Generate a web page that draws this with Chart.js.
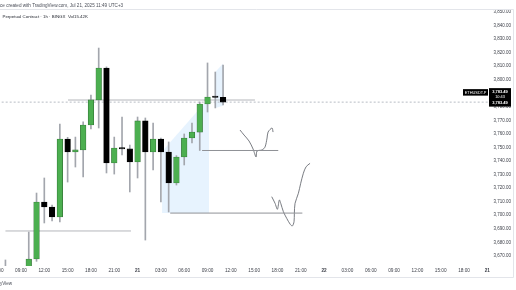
<!DOCTYPE html>
<html><head><meta charset="utf-8">
<script src="https://cdn.jsdelivr.net/npm/chart.js@4.4.1/dist/chart.umd.min.js"></script>
<style>html,body{margin:0;padding:0;background:#fff;overflow:hidden}canvas{display:block}</style>
</head><body>
<canvas id="c" width="516" height="290"></canvas>
<script>
// hour index: 0 = 06:00 on Jul 20
const hourIndex = [1,4,5,6,7,8,9,10,11,12,13,14,15,16,17,18,19,20,21,22,23,24,25,26,27,28,29];
const opens  = [3660,3655,3667.7,3709.8,3706.1,3698.7,3756.3,3746.7,3748.2,3766.6,3785.1,3808.7,3738.6,3749.6,3749.0,3739.3,3769.6,3746.7,3756.3,3746.7,3723.8,3743.0,3757.0,3761.4,3782.1,3787.3,3787.0];
const highs  = [3667,3687.6,3716.4,3727.5,3707.6,3767.3,3757.5,3757.7,3769.0,3788.7,3823.4,3809.5,3757.7,3772.5,3751.8,3772.5,3771.8,3768.1,3757.0,3754.1,3744.0,3760.0,3768.1,3783.6,3812.4,3805.7,3810.9];
const lows   = [3650,3650,3666.0,3694.3,3695.8,3695.0,3724.5,3735.6,3728.2,3763.7,3764.4,3731.2,3730.4,3744.5,3717.2,3727.5,3681.7,3733.4,3709.8,3702.4,3722.3,3737.1,3753.3,3747.8,3776.2,3779.2,3781.4];
const closes = [3657,3667.7,3709.8,3706.1,3698.7,3756.3,3746.7,3748.2,3766.6,3785.1,3808.7,3738.6,3749.6,3749.0,3739.3,3769.6,3746.7,3756.3,3746.7,3723.8,3743.0,3757.0,3761.4,3782.1,3787.3,3787.0,3783.49];

const tickHours  = [0,3,6,9,12,15,18,21,24,27,30,33,36,39,42,45,48,51,54,57,60,63];
const tickLabels = ['06:00','09:00','12:00','15:00','18:00','21:00','21','03:00','06:00','09:00','12:00','15:00','18:00','21:00','22','03:00','06:00','09:00','12:00','15:00','18:00','21'];
const dateTicks  = ['21','22'];

const priceTicks = [3670,3680,3690,3700,3710,3720,3730,3740,3750,3760,3770,3780,3790,3800,3810,3820,3830,3840,3850];
const lastPrice = 3783.49;

// drawings (hour index, price)
const rangeX      = [21.15, 27.2];
const rangeTop    = [3747.0, 3786.6];
const rangeBottom = [3701.6, 3701.6];
const stripX      = [28.0, 29.0];
const stripTop    = [3805.7, 3812.0];
const stripBottom = [3779.2, 3780.8];
const levelA = {x:[9.05, 33.1], y:3785.05};
const levelB = {x:[26.3, 36.1], y:3747.8};
const levelC = {x:[22.2, 39.2], y:3701.6};
const levelD = {x:[1.0, 17.15], y:3688.4};
const curveAX = [31.18,31.70,32.34,32.86,33.24,33.37,34.02,34.40,34.66,34.79,35.30,35.43];
const curveAY = [3762.9,3759.2,3754.8,3748.9,3743.0,3747.4,3748.2,3750.4,3757.0,3761.4,3764.4,3761.4];
const curveBX = [35.26,35.69,35.99,36.24,36.42,36.76,37.19,37.62,37.91,38.13,38.17,38.26,38.69,38.99,39.33,39.68,40.19];
const curveBY = [3713.7,3708.8,3704.4,3711.3,3708.8,3702.6,3697.7,3693.5,3692.1,3695.2,3701.4,3708.8,3716.2,3723.6,3731.0,3735.8,3738.3];

const headerLine1 = 'ce created with TradingView.com, Jul 21, 2025 11:49 UTC+3';
const headerLine2 = 'Perpetual Contract · 1h · BINGX  Vol15.42K';
const footerText = 'yView';
const symbolText = 'ETHUSDT.P';
const countdown = '10:43';

const FONT = '"Liberation Sans", Arial, sans-serif';
const pts = (xs, ys) => xs.map((x,k)=>({x, y: ys[k]}));
const lineDS = (data, color, extra) => Object.assign({type:'line', data, borderColor:color, borderWidth:1, pointRadius:0, fill:false, tension:0, order:5}, extra||{});
const blue = 'rgba(33,150,243,0.11)';

const datasets = [
  lineDS(pts(rangeX, rangeTop), 'rgba(0,0,0,0)', {fill:'+1', backgroundColor:blue, borderWidth:0, order:20}),
  lineDS(pts(rangeX, rangeBottom), 'rgba(0,0,0,0)', {borderWidth:0, order:20}),
  lineDS(pts(stripX, stripTop), 'rgba(0,0,0,0)', {fill:'+1', backgroundColor:blue, borderWidth:0, order:20}),
  lineDS(pts(stripX, stripBottom), 'rgba(0,0,0,0)', {borderWidth:0, order:20}),
  lineDS([{x:0,y:lastPrice},{x:64,y:lastPrice}], '#b8bcc4', {borderDash:[2,2], order:6}),
  lineDS(levelA.x.map(x=>({x, y:levelA.y})), '#b4b6bb'),
  lineDS(levelB.x.map(x=>({x, y:levelB.y})), '#8f9196'),
  lineDS(levelC.x.map(x=>({x, y:levelC.y})), '#8f9196'),
  lineDS(levelD.x.map(x=>({x, y:levelD.y})), '#b4b6bb'),
  lineDS(pts(curveAX, curveAY), '#6a6d74', {tension:0.3, borderWidth:0.9}),
  lineDS(pts(curveBX, curveBY), '#6a6d74', {tension:0.3, borderWidth:0.9}),
  {type:'bar', data: hourIndex.map((h,k)=>({x:h, y:[lows[k], highs[k]]})), backgroundColor:'#a3a6ad', barThickness:1, grouped:false, order:2},
  {type:'bar', data: hourIndex.map((h,k)=>({x:h, y:[opens[k], closes[k]]})),
    backgroundColor: closes.map((c,k)=> c>=opens[k] ? '#4caf50' : '#000000'),
    borderColor: closes.map((c,k)=> c>=opens[k] ? '#2e6b31' : '#000000'),
    borderWidth:0.6, borderSkipped:false, barThickness:5.6, minBarLength:1.2, grouped:false, order:1}
];

const overlay = {
  id:'overlay',
  afterDraw(chart){
    const ctx = chart.ctx, ys = chart.scales.y;
    ctx.save();
    ctx.strokeStyle = '#e3e5ea'; ctx.lineWidth = 1;
    ctx.beginPath();
    ctx.moveTo(0, 9.5); ctx.lineTo(513.5, 9.5);
    ctx.moveTo(513.5, 9.5); ctx.lineTo(513.5, 277.5);
    ctx.moveTo(0, 277.5); ctx.lineTo(513.5, 277.5);
    ctx.stroke();
    ctx.textBaseline = 'middle'; ctx.textAlign = 'left';
    ctx.fillStyle = '#4a4e58'; ctx.font = '4.6px ' + FONT;
    ctx.fillText(headerLine1, 0, 5.5);
    ctx.fillStyle = '#1f222b'; ctx.font = '4.4px ' + FONT;
    ctx.fillText(headerLine2, 2.5, 16.5);
    ctx.fillStyle = '#4a4e58'; ctx.font = '4.6px ' + FONT;
    ctx.fillText(footerText, 0, 284);
    const p = ys.getPixelForValue(lastPrice);
    ctx.fillStyle = '#000';
    ctx.fillRect(463, p - 13, 25, 6.5);
    ctx.fillRect(489, p - 14, 22, 18.5);
    ctx.fillStyle = '#fff'; ctx.font = '3.9px ' + FONT; ctx.textAlign = 'center';
    ctx.fillText(symbolText, 475.5, p - 9.7);
    ctx.font = 'bold 4px ' + FONT;
    ctx.fillText(lastPrice.toLocaleString('en-US',{minimumFractionDigits:2}), 500, p - 10.5);
    ctx.font = '3.9px ' + FONT;
    ctx.fillText(countdown, 500, p - 5);
    ctx.font = 'bold 4px ' + FONT;
    ctx.fillText(lastPrice.toLocaleString('en-US',{minimumFractionDigits:2}), 500, p + 0.8);
    ctx.restore();
  }
};

new Chart(document.getElementById('c'), {
  type:'bar',
  data:{datasets},
  options:{
    responsive:false, animation:false, devicePixelRatio:1,
    layout:{padding:{top:10, bottom:13, left:0, right:0}},
    plugins:{legend:{display:false}, tooltip:{enabled:false}, filler:{drawTime:'beforeDatasetsDraw'}},
    scales:{
      x:{type:'linear', position:'bottom', min:0.3, max:63.6, offset:false,
        grid:{display:false, drawTicks:false}, border:{display:false},
        afterBuildTicks(s){ s.ticks = tickHours.map(v=>({value:v})); },
        afterFit(s){ s.height = 11; s.paddingLeft = 0; s.paddingRight = 0; },
        ticks:{autoSkip:false, maxRotation:0, padding:2, color:'#3c3f48',
          font:(c)=>({family:FONT, size:4.7, weight: (c.tick && dateTicks.includes(tickLabels[tickHours.indexOf(c.tick.value)])) ? 'bold' : 'normal'}),
          callback:(v)=>{ const k = tickHours.indexOf(v); return k>=0 ? tickLabels[k] : ''; }}
      },
      y:{type:'linear', position:'right', min:3662.55, max:3851.48,
        grid:{display:false, drawTicks:false}, border:{display:false},
        afterBuildTicks(s){ s.ticks = priceTicks.map(v=>({value:v})); },
        afterFit(s){ s.width = 24; s.paddingTop = 0; s.paddingBottom = 0; },
        ticks:{padding:1.5, color:'#3c3f48', font:{family:FONT, size:4.5},
          callback:(v)=> Number(v).toLocaleString('en-US',{minimumFractionDigits:2, maximumFractionDigits:2})}
      }
    }
  },
  plugins:[overlay]
});
</script>
</body></html>
